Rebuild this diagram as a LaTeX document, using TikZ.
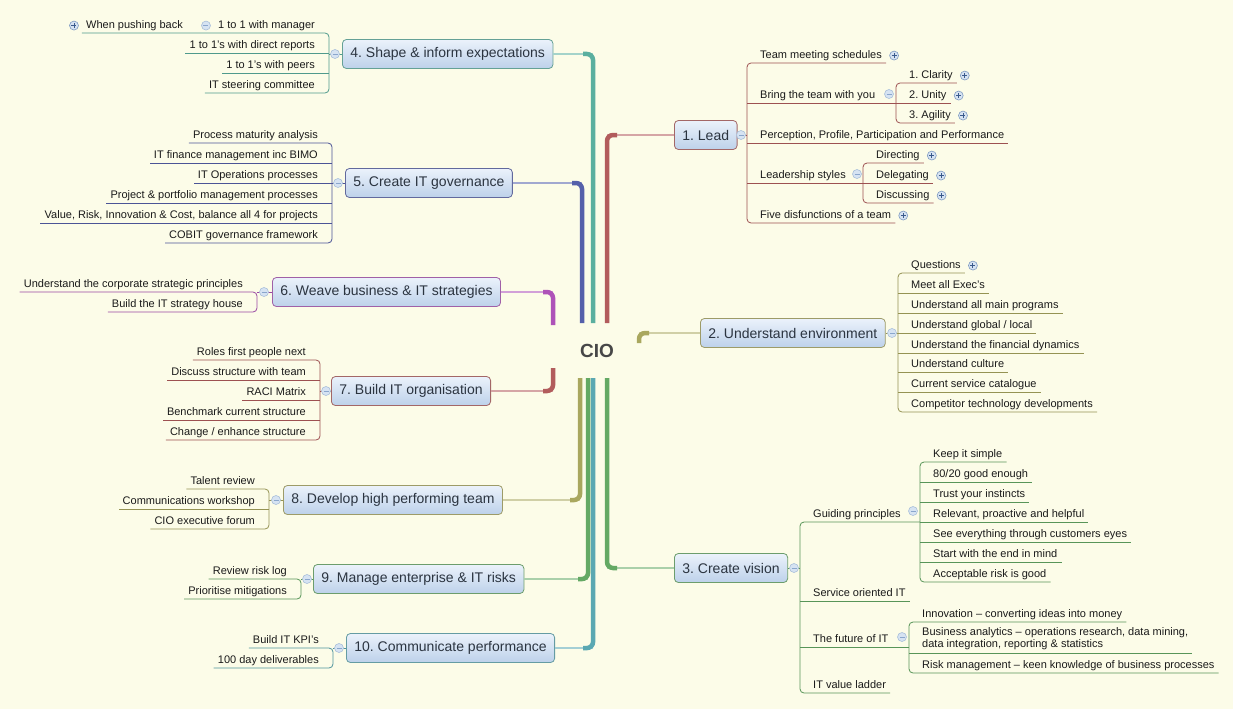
\documentclass[tikz,border=0pt]{standalone}
\usepackage{fontspec}
\setmainfont{Liberation Sans}
\frenchspacing

\definecolor{paper}{HTML}{FCFCE8}
\definecolor{boxtop}{HTML}{EBF2FB}
\definecolor{boxbottom}{HTML}{BDD1EA}
\definecolor{topictext}{HTML}{2B3440}
\definecolor{leaftext}{HTML}{1A1A1A}
\definecolor{ciotext}{HTML}{474747}
\definecolor{foldfill}{HTML}{D6E3F2}
\definecolor{foldline}{HTML}{A9BFDA}
\definecolor{foldsign}{HTML}{8AA6CC}
\definecolor{plusline}{HTML}{7F9BC2}
\definecolor{plussign}{HTML}{3A5A8C}
% branch colours
\definecolor{leadc}{HTML}{B25C5C}
\definecolor{envc}{HTML}{A9A75E}
\definecolor{visionc}{HTML}{64A964}
\definecolor{shapec}{HTML}{5AAF9F}
\definecolor{govc}{HTML}{5560AA}
\definecolor{weavec}{HTML}{AE52B8}
\definecolor{orgc}{HTML}{B25C5C}
\definecolor{teamc}{HTML}{A9A75E}
\definecolor{riskc}{HTML}{64A964}
\definecolor{perfc}{HTML}{5AA8B2}

\tikzset{
  topic/.style={draw=#1!70!gray, line width=0.8pt, rounded corners=4pt,
    top color=boxtop, bottom color=boxbottom, text=topictext,
    font=\fontsize{14}{16}\selectfont, minimum height=29pt, inner xsep=8pt, anchor=west},
  leaf/.style={font=\fontsize{11}{12}\selectfont, text=leaftext, inner xsep=4pt,
    inner ysep=2pt, text height=8pt, text depth=2.5pt},
  leaf right/.style={leaf, anchor=south west},
  leaf left/.style={leaf, anchor=south east},
  trunk/.style={draw=#1, line width=4.5pt, rounded corners=6pt},
  link/.style={draw=#1!55, line width=2pt},
  twig/.style={draw=#1!88!black, line width=0.8pt, rounded corners=4pt},
  fold/.style={circle, draw=foldline, fill=foldfill, minimum size=9pt, inner sep=0pt, line width=0.6pt},
  foldminus/.style={fold, path picture={
    \draw[foldsign, line width=0.9pt] ([xshift=-2.5pt]path picture bounding box.center)
      -- ([xshift=2.5pt]path picture bounding box.center);}},
  foldplus/.style={fold, draw=plusline, path picture={
    \draw[plussign, line width=0.9pt] ([xshift=-2.5pt]path picture bounding box.center)
      -- ([xshift=2.5pt]path picture bounding box.center)
      ([yshift=-2.5pt]path picture bounding box.center)
      -- ([yshift=2.5pt]path picture bounding box.center);}},
}

\begin{document}
\begin{tikzpicture}[x=1pt, y=-1pt]
  % Paper background, also fixes the size of the picture
  \path[use as bounding box, fill=paper] (0,0) rectangle (1233,709);

  % Central topic
  \node[font=\bfseries\fontsize{19}{22}\selectfont, text=ciotext] (cio) at (597,351) {CIO};

  % Main topics, right side
  \node[topic=leadc]   (lead)   at (674,135) {1. Lead};
  \node[topic=envc]    (env)    at (700,333) {2. Understand environment};
  \node[topic=visionc] (vision) at (674,568) {3. Create vision};

  % Main topics, left side
  \node[topic=shapec] (shape) at (342,54)  {4. Shape \& inform expectations};
  \node[topic=govc]   (gov)   at (345,183) {5. Create IT governance};
  \node[topic=weavec] (weave) at (272,292) {6. Weave business \& IT strategies};
  \node[topic=orgc]   (org)   at (331,391) {7. Build IT organisation};
  \node[topic=teamc]  (team)  at (283,500) {8. Develop high performing team};
  \node[topic=riskc]  (risk)  at (313,579) {9. Manage enterprise \& IT risks};
  \node[topic=perfc]  (perf)  at (346,648) {10. Communicate performance};

  % Start and bend points of the trunks round CIO
  \coordinate (lead start)   at (607,323); \coordinate (lead bend)   at (607,135);
  \coordinate (env start)    at (639,343); \coordinate (env bend)    at (639,333);
  \coordinate (vision start) at (607,378); \coordinate (vision bend) at (607,568);
  \coordinate (shape start)  at (593,323); \coordinate (shape bend)  at (593,54);
  \coordinate (gov start)    at (582,323); \coordinate (gov bend)    at (582,183);
  \coordinate (weave start)  at (553,325); \coordinate (weave bend)  at (553,292);
  \coordinate (org start)    at (553,368); \coordinate (org bend)    at (553,391);
  \coordinate (team start)   at (580,378); \coordinate (team bend)   at (580,500);
  \coordinate (risk start)   at (588,378); \coordinate (risk bend)   at (588,579);
  \coordinate (perf start)   at (593,378); \coordinate (perf bend)   at (593,648);

  % Trunks: a thin link into the box, then the thick stem over it
  \draw[link=leadc]   (lead bend)   -- (lead.west);
  \draw[link=envc]    (env bend)    -- (env.west);
  \draw[link=visionc] (vision bend) -- (vision.west);
  \draw[link=shapec]  (shape bend)  -- (shape.east);
  \draw[link=govc]    (gov bend)    -- (gov.east);
  \draw[link=weavec]  (weave bend)  -- (weave.east);
  \draw[link=orgc]    (org bend)    -- (org.east);
  \draw[link=teamc]   (team bend)   -- (team.east);
  \draw[link=riskc]   (risk bend)   -- (risk.east);
  \draw[link=perfc]   (perf bend)   -- (perf.east);
  \draw[trunk=leadc]   (lead start)   -- (lead bend)   -- ++(10,0);
  \draw[trunk=envc]    (env start)    -- (env bend)    -- ++(10,0);
  \draw[trunk=visionc] (vision start) -- (vision bend) -- ++(10,0);
  \draw[trunk=shapec]  (shape start)  -- (shape bend)  -- ++(-10,0);
  \draw[trunk=govc]    (gov start)    -- (gov bend)    -- ++(-10,0);
  \draw[trunk=weavec]  (weave start)  -- (weave bend)  -- ++(-10,0);
  \draw[trunk=orgc]    (org start)    -- (org bend)    -- ++(-10,0);
  \draw[trunk=teamc]   (team start)   -- (team bend)   -- ++(-10,0);
  \draw[trunk=riskc]   (risk start)   -- (risk bend)   -- ++(-10,0);
  \draw[trunk=perfc]   (perf start)   -- (perf bend)   -- ++(-10,0);

  % 1. Lead
  \coordinate (lead spine)  at (747,135);
  \coordinate (bring spine) at (896,103);
  \coordinate (style spine) at (863,183);
  \draw[twig=leadc] (lead.east) -- (lead spine);
  \node[foldminus] at (741,135) {};
  \node[leaf right] (meetings) at (756,63)  {Team meeting schedules};
  \node[leaf right] (bring)    at (756,103) {Bring the team with you};
  \node[leaf right] (pppp)     at (756,143) {Perception, Profile, Participation and Performance};
  \node[leaf right] (styles)   at (756,183) {Leadership styles};
  \node[leaf right] (five)     at (756,223) {Five disfunctions of a team};
  \draw[twig=leadc] (meetings.south east) -- (lead spine |- meetings.south)
    -- (lead spine |- five.south) -- (five.south east);
  \draw[twig=leadc] (lead spine |- bring.south) -- (bring spine);
  \draw[twig=leadc] (lead spine |- pppp.south) -- (pppp.south east);
  \draw[twig=leadc] (lead spine |- styles.south) -- (style spine);
  \node[foldplus]  at ([xshift=8pt]meetings.east) {};
  \node[foldminus] at (889,94) {};
  \node[foldminus] at (857,174) {};
  \node[foldplus]  at ([xshift=8pt]five.east) {};
  % subtopics of Bring the team with you
  \node[leaf right] (clarity) at (905,83)  {1. Clarity};
  \node[leaf right] (unity)   at (905,103) {2. Unity};
  \node[leaf right] (agility) at (905,123) {3. Agility};
  \draw[twig=leadc] (clarity.south east) -- (bring spine |- clarity.south)
    -- (bring spine |- agility.south) -- (agility.south east);
  \draw[twig=leadc] (bring spine) -- (unity.south east);
  \node[foldplus] at ([xshift=8pt]clarity.east) {};
  \node[foldplus] at ([xshift=8pt]unity.east) {};
  \node[foldplus] at ([xshift=8pt]agility.east) {};
  % subtopics of Leadership styles
  \node[leaf right] (directing)  at (872,163) {Directing};
  \node[leaf right] (delegating) at (872,183) {Delegating};
  \node[leaf right] (discussing) at (872,203) {Discussing};
  \draw[twig=leadc] (directing.south east) -- (style spine |- directing.south)
    -- (style spine |- discussing.south) -- (discussing.south east);
  \draw[twig=leadc] (style spine) -- (delegating.south east);
  \node[foldplus] at ([xshift=8pt]directing.east) {};
  \node[foldplus] at ([xshift=8pt]delegating.east) {};
  \node[foldplus] at ([xshift=8pt]discussing.east) {};

  % 2. Understand environment
  \coordinate (env spine) at (898,333);
  \draw[twig=envc] (env.east) -- (env spine);
  \node[foldminus] at (892,333) {};
  \node[leaf right] (questions)  at (907,273) {Questions};
  \node[leaf right] (execs)      at (907,293) {Meet all Exec's};
  \node[leaf right] (programs)   at (907,313) {Understand all main programs};
  \node[leaf right] (global)     at (907,333) {Understand global / local};
  \node[leaf right] (financial)  at (907,353) {Understand the financial dynamics};
  \node[leaf right] (culture)    at (907,372) {Understand culture};
  \node[leaf right] (catalogue)  at (907,392) {Current service catalogue};
  \node[leaf right] (competitor) at (907,412) {Competitor technology developments};
  \draw[twig=envc] (questions.south east) -- (env spine |- questions.south)
    -- (env spine |- competitor.south) -- (competitor.south east);
  \draw[twig=envc] (env spine |- execs.south) -- (execs.south east);
  \draw[twig=envc] (env spine |- programs.south) -- (programs.south east);
  \draw[twig=envc] (env spine |- global.south) -- (global.south east);
  \draw[twig=envc] (env spine |- financial.south) -- (financial.south east);
  \draw[twig=envc] (env spine |- culture.south) -- (culture.south east);
  \draw[twig=envc] (env spine |- catalogue.south) -- (catalogue.south east);
  \node[foldplus] at ([xshift=8pt]questions.east) {};

  % 3. Create vision
  \coordinate (vision spine) at (800,568);
  \coordinate (guide spine)  at (920,522);
  \coordinate (future spine) at (909,647);
  \draw[twig=visionc] (vision.east) -- (vision spine);
  \node[foldminus] at (794,568) {};
  \node[leaf right] (guiding) at (809,522) {Guiding principles};
  \node[leaf right] (service) at (809,601) {Service oriented IT};
  \node[leaf right] (future)  at (809,647) {The future of IT};
  \node[leaf right] (ladder)  at (809,693) {IT value ladder};
  \draw[twig=visionc] (guide spine) -- (vision spine |- guiding.south)
    -- (vision spine |- ladder.south) -- (ladder.south east);
  \draw[twig=visionc] (vision spine |- service.south) -- (service.south east);
  \draw[twig=visionc] (vision spine |- future.south) -- (future spine);
  \node[foldminus] at (913,511) {};
  \node[foldminus] at (902,637) {};
  % subtopics of Guiding principles
  \node[leaf right] (simple)     at (929,462) {Keep it simple};
  \node[leaf right] (enough)     at (929,482) {80/20 good enough};
  \node[leaf right] (instincts)  at (929,502) {Trust your instincts};
  \node[leaf right] (relevant)   at (929,522) {Relevant, proactive and helpful};
  \node[leaf right] (customers)  at (929,542) {See everything through customers eyes};
  \node[leaf right] (endmind)    at (929,562) {Start with the end in mind};
  \node[leaf right] (acceptable) at (929,582) {Acceptable risk is good};
  \draw[twig=visionc] (simple.south east) -- (guide spine |- simple.south)
    -- (guide spine |- acceptable.south) -- (acceptable.south east);
  \draw[twig=visionc] (guide spine |- enough.south) -- (enough.south east);
  \draw[twig=visionc] (guide spine |- instincts.south) -- (instincts.south east);
  \draw[twig=visionc] (guide spine) -- (relevant.south east);
  \draw[twig=visionc] (guide spine |- customers.south) -- (customers.south east);
  \draw[twig=visionc] (guide spine |- endmind.south) -- (endmind.south east);
  % subtopics of The future of IT
  \node[leaf right] (innovation) at (918,622) {Innovation -- converting ideas into money};
  \node[leaf right, text height=, text depth=, align=left, inner ysep=3.5pt] (analytics) at (918,653)
    {Business analytics -- operations research, data mining,\\data integration, reporting \& statistics};
  \node[leaf right] (riskmgmt)   at (918,673) {Risk management -- keen knowledge of business processes};
  \draw[twig=visionc] (innovation.south east) -- (future spine |- innovation.south)
    -- (future spine |- riskmgmt.south) -- (riskmgmt.south east);
  \draw[twig=visionc] (future spine |- analytics.south) -- (analytics.south east);

  % 4. Shape & inform expectations
  \coordinate (shape spine) at (329,54);
  \draw[twig=shapec] (shape.west) -- (shape spine);
  \node[foldminus] at (335,54) {};
  \node[leaf left] (manager)  at (319,33) {1 to 1 with manager};
  \node[leaf left] (pushing)  at (187,33) {When pushing back};
  \node[leaf left] (direct)   at (319,53) {1 to 1's with direct reports};
  \node[leaf left] (peers)    at (319,73) {1 to 1's with peers};
  \node[leaf left] (steering) at (319,93) {IT steering committee};
  \draw[twig=shapec] (pushing.south west) -- (shape spine |- manager.south)
    -- (shape spine |- steering.south) -- (steering.south west);
  \draw[twig=shapec] (shape spine |- direct.south) -- (direct.south west);
  \draw[twig=shapec] (shape spine |- peers.south) -- (peers.south west);
  \node[foldminus] at ([xshift=-8pt]manager.west) {};
  \node[foldplus]  at ([xshift=-8pt]pushing.west) {};

  % 5. Create IT governance
  \coordinate (gov spine) at (332,183);
  \draw[twig=govc] (gov.west) -- (gov spine);
  \node[foldminus] at (338,183) {};
  \node[leaf left] (maturity)   at (322,143) {Process maturity analysis};
  \node[leaf left] (finance)    at (322,163) {IT finance management inc BIMO};
  \node[leaf left] (operations) at (322,183) {IT Operations processes};
  \node[leaf left] (portfolio)  at (322,203) {Project \& portfolio management processes};
  \node[leaf left] (balance)    at (322,223) {Value, Risk, Innovation \& Cost, balance all 4 for projects};
  \node[leaf left] (cobit)      at (322,243) {COBIT governance framework};
  \draw[twig=govc] (maturity.south west) -- (gov spine |- maturity.south)
    -- (gov spine |- cobit.south) -- (cobit.south west);
  \draw[twig=govc] (gov spine |- finance.south) -- (finance.south west);
  \draw[twig=govc] (gov spine |- operations.south) -- (operations.south west);
  \draw[twig=govc] (gov spine |- portfolio.south) -- (portfolio.south west);
  \draw[twig=govc] (gov spine |- balance.south) -- (balance.south west);

  % 6. Weave business & IT strategies
  \coordinate (weave spine) at (257,292);
  \draw[twig=weavec] (weave.west) -- (weave spine);
  \node[foldminus] at (264,292) {};
  \node[leaf left] (principles) at (247,292) {Understand the corporate strategic principles};
  \node[leaf left] (house)      at (247,312) {Build the IT strategy house};
  \draw[twig=weavec] (principles.south west) -- (weave spine)
    -- (weave spine |- house.south) -- (house.south west);

  % 7. Build IT organisation
  \coordinate (org spine) at (320,391);
  \draw[twig=orgc] (org.west) -- (org spine);
  \node[foldminus] at (326,391) {};
  \node[leaf left] (roles)     at (310,360) {Roles first people next};
  \node[leaf left] (discuss)   at (310,380) {Discuss structure with team};
  \node[leaf left] (raci)      at (310,400) {RACI Matrix};
  \node[leaf left] (benchmark) at (310,420) {Benchmark current structure};
  \node[leaf left] (change)    at (310,440) {Change / enhance structure};
  \draw[twig=orgc] (roles.south west) -- (org spine |- roles.south)
    -- (org spine |- change.south) -- (change.south west);
  \draw[twig=orgc] (org spine |- discuss.south) -- (discuss.south west);
  \draw[twig=orgc] (org spine |- raci.south) -- (raci.south west);
  \draw[twig=orgc] (org spine |- benchmark.south) -- (benchmark.south west);

  % 8. Develop high performing team
  \coordinate (team spine) at (269,500);
  \draw[twig=teamc] (team.west) -- (team spine);
  \node[foldminus] at (276,500) {};
  \node[leaf left] (talent)   at (259,489) {Talent review};
  \node[leaf left] (workshop) at (259,509) {Communications workshop};
  \node[leaf left] (forum)    at (259,529) {CIO executive forum};
  \draw[twig=teamc] (talent.south west) -- (team spine |- talent.south)
    -- (team spine |- forum.south) -- (forum.south west);
  \draw[twig=teamc] (team spine |- workshop.south) -- (workshop.south west);

  % 9. Manage enterprise & IT risks
  \coordinate (risk spine) at (301,579);
  \draw[twig=riskc] (risk.west) -- (risk spine);
  \node[foldminus] at (307,579) {};
  \node[leaf left] (risklog)     at (291,579) {Review risk log};
  \node[leaf left] (mitigations) at (291,599) {Prioritise mitigations};
  \draw[twig=riskc] (risklog.south west) -- (risk spine)
    -- (risk spine |- mitigations.south) -- (mitigations.south west);

  % 10. Communicate performance
  \coordinate (perf spine) at (333,648);
  \draw[twig=perfc] (perf.west) -- (perf spine);
  \node[foldminus] at (339,648) {};
  \node[leaf left] (kpis)         at (323,648) {Build IT KPI's};
  \node[leaf left] (deliverables) at (323,668) {100 day deliverables};
  \draw[twig=perfc] (kpis.south west) -- (perf spine)
    -- (perf spine |- deliverables.south) -- (deliverables.south west);
\end{tikzpicture}
\end{document}
